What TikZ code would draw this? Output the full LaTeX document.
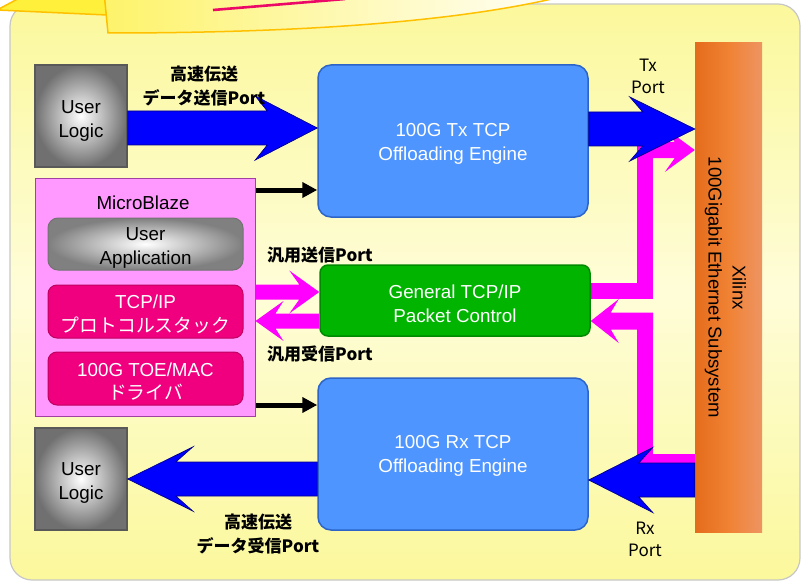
\documentclass[tikz,border=0pt]{standalone}
\usepackage{fontspec}
\setmainfont{Liberation Sans}
\newfontfamily\cjk{Noto Sans CJK JP}
\usetikzlibrary{calc,arrows.meta}
\definecolor{bgyel}{HTML}{FBF89C}
\definecolor{bgpale}{HTML}{FEFDD8}
\definecolor{txblue}{HTML}{4F95FF}
\definecolor{txborder}{HTML}{2C64C8}
\definecolor{arrblue}{HTML}{0000FF}
\definecolor{arrnavy}{HTML}{00008C}
\definecolor{mag}{HTML}{FF00FF}
\definecolor{mbpink}{HTML}{FF99FF}
\definecolor{mbborder}{HTML}{A040A0}
\definecolor{hotpink}{HTML}{F0007F}
\definecolor{hotborder}{HTML}{C00060}
\definecolor{grn}{HTML}{00B400}
\definecolor{grnborder}{HTML}{008A00}
\definecolor{orL}{HTML}{E46C1C}
\definecolor{orM}{HTML}{F08234}
\definecolor{orR}{HTML}{EE9462}
\definecolor{bannerline}{HTML}{FFC000}
\definecolor{banneryel}{HTML}{FEF36A}
\definecolor{flapyel}{HTML}{FFF03C}
\definecolor{redline}{HTML}{EC0866}
\definecolor{ulgray}{HTML}{707070}
\newcommand{\barbarrow}[8]{%
  \path[#1] let \p1=(#2), \p2=(#3) in
    (\x1,\y2+#4) -- ({\x2-(#6)*#7},\y2+#4) -- ({\x2-(#6)*#8},\y2+#5) -- (\x2,\y2)
    -- ({\x2-(#6)*#8},\y2-#5) -- ({\x2-(#6)*#7},\y2-#4) -- (\x1,\y2-#4) -- cycle;}
\begin{document}
\begin{tikzpicture}[x=1pt,y=-1pt,
  btxt/.style={font=\fontsize{18.8}{23.5}\selectfont, align=center},
  toe/.style={draw=txborder, line width=1.5pt, fill=txblue, rounded corners=13pt,
    minimum width=270pt, minimum height=152pt},
  ulogic/.style={draw=black!65, line width=1.5pt, inner color=white, outer color=ulgray,
    minimum width=92pt, minimum height=102pt},
  pinkbox/.style={draw=hotborder, line width=1pt, fill=hotpink, rounded corners=9pt,
    minimum width=195pt, minimum height=53pt},
  appbox/.style={draw=black!55, line width=1pt, inner color=white, outer color=black!50,
    rounded corners=10pt, minimum width=195pt, minimum height=52pt},
  jlbl/.style={font=\cjk\bfseries\fontsize{17}{24}\selectfont, align=center},
  portlbl/.style={font=\cjk\fontsize{17}{22}\selectfont, align=center},
  bluearr/.style={fill=arrblue, draw=arrnavy, line width=0.7pt},
  magarr/.style={fill=mag},
  magband/.style={draw=mag, line width=16pt},
  blkarr/.style={draw=black, line width=5pt, -{Triangle[length=15pt,width=15pt]}}
]
\useasboundingbox (0,0) rectangle (803,583);
% background panel
\path[draw=black!22, line width=1.2pt, rounded corners=22pt,
  top color=bgyel, bottom color=bgyel, middle color=bgpale] (10,4) rectangle (800,580);
% banner
\path[draw=bannerline, line width=1.5pt, fill=flapyel] (-3,10) -- (107,15) -- (105,-5) -- (25,-5) -- cycle;
\path[draw=bannerline, line width=1.5pt, left color=banneryel, right color=white]
  (104,-8) -- (108,33) .. controls (300,33) and (470,22) .. (580,-8) -- cycle;
\draw[redline, line width=2.6pt] (213,10) -- (345,-1);

% blocks
\node[ulogic, label={[btxt, yshift=-5pt]center:User\\Logic}] (ul1) at (81,116) {};
\node[ulogic, label={[btxt, yshift=-4pt]center:User\\Logic}] (ul2) at (81,479) {};
\node[toe, label={[btxt, text=white, yshift=-3pt]center:100G Tx TCP\\Offloading Engine}] (tx) at (453,141) {};
\node[toe, label={[btxt, text=white, yshift=-2pt]center:100G Rx TCP\\Offloading Engine}] (rx) at (453,454) {};
\node[draw=grnborder, line width=1.5pt, fill=grn, rounded corners=8pt,
  minimum width=270pt, minimum height=71pt,
  label={[btxt, text=white, yshift=-3.5pt]center:General TCP/IP\\Packet Control}] (gr) at (455,300.5) {};
\node[draw=none, left color=orL, right color=orR, middle color=orM,
  minimum width=67pt, minimum height=489pt] (bar) at (728.5,287.5) {};
\node[rotate=-90, align=center, font=\fontsize{18.5}{24}\selectfont]
  (bartxt) at ($(bar.center)+(-3,0)$) {Xilinx\\100Gigabit Ethernet Subsystem};

% MicroBlaze
\node[draw=mbborder, line width=1pt, fill=mbpink, minimum width=220pt, minimum height=238pt]
  (mb) at (145,297) {};
\node[btxt] (mbt) at (143,203) {MicroBlaze};
\node[appbox, label={[btxt, yshift=-4pt]center:User\\Application}] (app) at (145.5,244) {};
\node[pinkbox, label={[btxt, text=white, yshift=-3pt]center:TCP/IP\\{\cjk プロトコルスタック}}] (tcp) at (145.5,311.5) {};
\node[pinkbox, label={[btxt, text=white, yshift=-3pt]center:100G TOE/MAC\\{\cjk ドライバ}}] (drv) at (145.5,378.5) {};

% black control arrows
\draw[blkarr] (mb.east |- 0,190) -- (tx.west |- 0,190);
\draw[blkarr] (mb.east |- 0,405) -- (rx.west |- 0,405);

% magenta general paths
\coordinate (ka) at (645,150);
\coordinate (kb) at (645,321);
\draw[magband] (gr.east |- 0,291) -| (ka);
\barbarrow{magarr}{637,150}{bar.west |- 0,150}{8pt}{22pt}{1}{20pt}{30pt}
\draw[magband] (bar.west |- 0,462) -| (kb);
\barbarrow{magarr}{653,321}{gr.east |- 0,321}{8.5pt}{22pt}{-1}{20pt}{28pt}
\barbarrow{magarr}{mb.east |- 0,292}{gr.west |- 0,292}{7.5pt}{21.5pt}{1}{20pt}{30pt}
\barbarrow{magarr}{gr.west |- 0,321}{mb.east |- 0,321}{7.5pt}{20pt}{-1}{20pt}{28pt}

% blue data arrows
\barbarrow{bluearr}{ul1.east |- 0,128}{tx.west |- 0,128}{17pt}{32pt}{1}{50pt}{62pt}
\barbarrow{bluearr}{tx.east |- 0,129}{bar.west |- 0,129}{17pt}{32pt}{1}{52pt}{65pt}
\barbarrow{bluearr}{bar.west |- 0,480}{rx.east |- 0,480}{17pt}{32.5pt}{-1}{50pt}{64pt}
\barbarrow{bluearr}{rx.west |- 0,479}{ul2.east |- 0,479}{17pt}{32pt}{-1}{48pt}{65pt}

% labels
\node[jlbl] (l1) at (204,86) {高速伝送\\データ送信Port};
\node[jlbl] (l2) at (258,534) {高速伝送\\データ受信Port};
\node[jlbl] (l3) at (320,255) {汎用送信Port};
\node[jlbl] (l4) at (320,354) {汎用受信Port};
\node[portlbl] (l5) at (648,76) {Tx\\Port};
\node[portlbl] (l6) at (645,539) {Rx\\Port};
\end{tikzpicture}
\end{document}
